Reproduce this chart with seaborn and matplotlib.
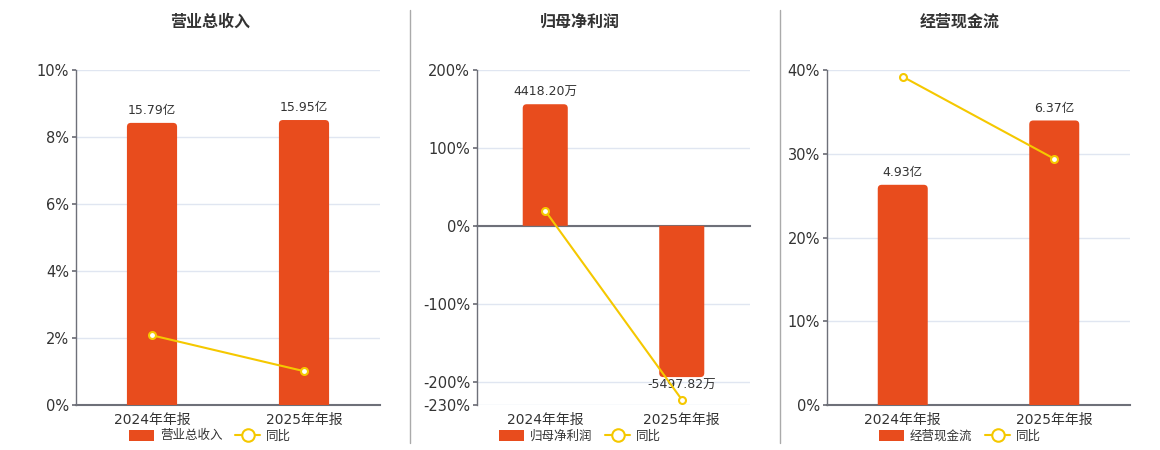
import numpy as np
import matplotlib
matplotlib.use("Agg")
import matplotlib.pyplot as plt
import seaborn as sns
from matplotlib.patches import FancyBboxPatch, PathPatch
from matplotlib.path import Path
from matplotlib.lines import Line2D
from matplotlib.ticker import FuncFormatter

sns.set_theme(style="white")
plt.rcParams['font.family'] = ['DejaVu Sans', 'Noto Sans CJK SC']
plt.rcParams['axes.unicode_minus'] = False

periods = ["2024年年报", "2025年年报"]

titles = ["营业总收入", "归母净利润", "经营现金流"]
bar_values = [[15.79, 15.95], [4418.20, -5497.82], [4.93, 6.37]]
bar_labels = [["15.79亿", "15.95亿"], ["4418.20万", "-5497.82万"], ["4.93亿", "6.37亿"]]
yoy = [[2.08, 1.01], [19.2, -223.0], [39.2, 29.4]]

pct_ticks = [[0, 2, 4, 6, 8, 10], [-230, -200, -100, 0, 100, 200], [0, 10, 20, 30, 40]]
pct_lims = [(0, 10), (-230, 200), (0, 40)]
bar_lims = [(0, 18.75), (-6512, 5662), (0, 7.5)]

BAR = "#E84C1D"
LINE = "#F5C800"
AXC = "#6E7079"
GRID = "#E0E6F1"
TXT = "#333333"

# panel layout in pixels: (axis left, axis width, panel centre)
W, H = 1160, 450
panels = [(76, 304, 210), (477, 273, 580), (827, 303, 960)]

fig = plt.figure(figsize=(W / 100, H / 100), dpi=100)


def rounded_bar(p, rx, ry):
    # bar outline with only the outer end rounded
    x0, y0 = p.get_x(), p.get_y()
    w, h = p.get_width(), p.get_height()
    s = 1 if h >= 0 else -1
    e = y0 + h
    verts = [(x0, y0), (x0 + w, y0), (x0 + w, e - s * ry), (x0 + w, e),
             (x0 + w - rx, e), (x0 + rx, e), (x0, e), (x0, e - s * ry), (x0, y0)]
    codes = [Path.MOVETO, Path.LINETO, Path.LINETO, Path.CURVE3, Path.CURVE3,
             Path.LINETO, Path.CURVE3, Path.CURVE3, Path.CLOSEPOLY]
    return PathPatch(Path(verts, codes), facecolor=BAR, edgecolor="none", zorder=2)


for i in range(3):
    left, width, centre = panels[i]
    ax = fig.add_axes([left / W, 45 / H, width / W, 335 / H])
    ax2 = ax.twinx()
    ax3 = ax.twinx()

    # bars on secondary scale
    sns.barplot(x=periods, y=bar_values[i], ax=ax2, color=BAR, saturation=1,
                width=0.33, label=titles[i])
    ax2.set_ylim(*bar_lims[i])
    ax2.set_xlim(-0.5, 1.5)

    fig.canvas.draw()
    bb = ax2.get_window_extent()
    rad_px = 4
    rx = rad_px * 2.0 / bb.width
    ry = rad_px * (bar_lims[i][1] - bar_lims[i][0]) / bb.height
    for p, lab in zip(list(ax2.patches), bar_labels[i]):
        ax2.add_patch(rounded_bar(p, rx, ry))
        p.set_visible(False)
        x0, w, top = p.get_x(), p.get_width(), p.get_y() + p.get_height()
        if p.get_height() >= 0:
            ax2.annotate(lab, (x0 + w / 2, top), xytext=(0, 4),
                         textcoords="offset points", ha="center", va="bottom",
                         fontsize=9, color=TXT)
        else:
            ax2.annotate(lab, (x0 + w / 2, top), xytext=(0, -1),
                         textcoords="offset points", ha="center", va="top",
                         fontsize=9, color=TXT)
    ax2.set_yticks([])
    for s in ax2.spines.values():
        s.set_visible(False)

    # percent axis with grid
    ax.set_ylim(*pct_lims[i])
    ax.set_xlim(-0.5, 1.5)
    ax.set_yticks(pct_ticks[i])
    ax.yaxis.set_major_formatter(FuncFormatter(lambda v, _: f"{v:.0f}%"))
    ax.grid(axis="y", color=GRID, linewidth=1)
    ax.tick_params(axis="y", labelsize=10.5, labelcolor=TXT, length=3, color=AXC, pad=2)
    for s in ["top", "right"]:
        ax.spines[s].set_visible(False)
    ax.spines["left"].set_color(AXC)
    ax.spines["bottom"].set_color(AXC)
    ax.spines["left"].set_linewidth(1)
    ax.spines["bottom"].set_linewidth(1.5)
    ax.set_xticks([0, 1])
    ax.set_xticklabels(periods)
    ax.set_xticks([-0.5, 0.5, 1.5], minor=True)
    ax.tick_params(axis="x", which="major", length=0, labelsize=10, labelcolor=TXT, pad=6)
    ax.tick_params(axis="x", which="minor", length=5, color=AXC, width=1)
    if pct_lims[i][0] < 0:
        zero_px = 335 * (0 - pct_lims[i][0]) / (pct_lims[i][1] - pct_lims[i][0])
        ax.spines["bottom"].set_position(("data", 0))
        ax.tick_params(axis="x", which="major", pad=6 + zero_px * 0.72)

    # yoy line on top
    sns.lineplot(x=np.arange(len(periods)), y=yoy[i], ax=ax3, color=LINE,
                 linewidth=1.5, marker="o", markersize=5, markerfacecolor="white",
                 markeredgecolor=LINE, markeredgewidth=1.5, label="同比")
    ax3.set_ylim(*pct_lims[i])
    ax3.set_xlim(-0.5, 1.5)
    ax3.set_yticks([])
    ax3.set_ylabel("")
    ax2.set_ylabel("")
    for s in ax3.spines.values():
        s.set_visible(False)
    if ax3.get_legend():
        ax3.get_legend().remove()
    if ax2.get_legend():
        ax2.get_legend().remove()

    fig.text(centre / W, 1 - 22 / H, titles[i], ha="center", va="center",
             fontsize=11.5, fontweight="bold", color=TXT)

    handles = [FancyBboxPatch((0, 0), 1, 1, boxstyle="round,pad=0", facecolor=BAR,
                              edgecolor="none"),
               Line2D([], [], color=LINE, linewidth=1.5, marker="o", markersize=9,
                      markerfacecolor="white", markeredgecolor=LINE, markeredgewidth=1.5)]
    fig.legend(handles, [titles[i], "同比"], loc="center",
               bbox_to_anchor=(centre / W, 1 - 436 / H), ncol=2, frameon=False,
               fontsize=9, handlelength=2.0, handleheight=1.0, columnspacing=1.0,
               handletextpad=0.5, labelcolor=TXT)

for xs in [410, 780]:
    fig.add_artist(Line2D([xs / W, xs / W], [1 - 443 / H, 1 - 10 / H],
                          color="#AAAAAA", linewidth=1))

fig.savefig("out.png", dpi=100)
